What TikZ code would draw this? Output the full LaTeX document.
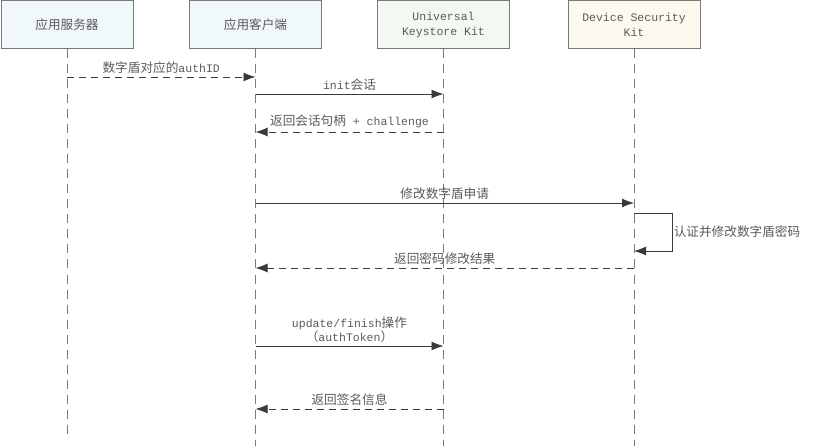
\documentclass[tikz,border=0pt]{standalone}
\usepackage{fontspec}
\setmainfont{Liberation Mono}
\newfontfamily\cjk{Noto Sans CJK SC}[Scale=1.1]
\usepackage{tikz}
\usetikzlibrary{arrows.meta}
\definecolor{boxline}{HTML}{7A7A7A}
\definecolor{msgline}{HTML}{3A3A3A}
\definecolor{msgtext}{HTML}{5A5A5A}
\definecolor{fillblue}{HTML}{F1F8FC}
\definecolor{fillgreen}{HTML}{F3F8F1}
\definecolor{fillyellow}{HTML}{FDF9EE}

\begin{document}
\begin{tikzpicture}[x=1pt,y=-1pt,
  actor/.style={draw=boxline,line width=1pt,minimum width=132pt,minimum height=48pt,
    align=center,text=msgtext,font=\fontsize{11.5}{15}\selectfont},
  lifeline/.style={draw=boxline,line width=1pt,dash pattern=on 9pt off 6pt},
  call/.style={draw=msgline,line width=0.9pt,-{Latex[length=12pt,width=9pt]}},
  reply/.style={call,dash pattern=on 7pt off 5pt},
  msg/.style={text=msgtext,font=\fontsize{11.5}{14}\selectfont,align=center}]
\useasboundingbox (0,0) rectangle (832,446);

\node[actor,fill=fillblue] (srv) at (67,25) {{\cjk 应用服务器}};
\node[actor,fill=fillblue] (cli) at (255.5,25) {{\cjk 应用客户端}};
\node[actor,fill=fillgreen] (ukk) at (443.5,25) {Universal\\Keystore Kit};
\node[actor,fill=fillyellow] (dsk) at (634,25) {Device Security\\Kit};

\coordinate (endsrv) at (67,435);
\coordinate (bottom) at (0,446);
\draw[lifeline] (srv.south) -- (endsrv);
\draw[lifeline] (cli.south) -- (cli |- bottom);
\draw[lifeline] (ukk.south) -- (ukk |- bottom);
\draw[lifeline] (dsk.south) -- (dsk |- bottom);

\coordinate (m1) at (0,77);
\coordinate (m2) at (0,94);
\coordinate (m3) at (0,132);
\coordinate (m4) at (0,203);
\coordinate (m5a) at (0,213);
\coordinate (m5b) at (0,251);
\coordinate (m6) at (0,268);
\coordinate (m7) at (0,346);
\coordinate (m8) at (0,409);
\coordinate (loop) at (672,0);

\draw[reply] (srv |- m1) -- node[msg,above] {{\cjk 数字盾对应的}authID} (cli |- m1);
\draw[call] (cli |- m2) -- node[msg,above] {init{\cjk 会话}} (ukk |- m2);
\draw[reply] (ukk |- m3) -- node[msg,above] {{\cjk 返回会话句柄} + challenge} (cli |- m3);
\draw[call] (cli |- m4) -- node[msg,above] {{\cjk 修改数字盾申请}} (dsk |- m4);
\draw[call] (dsk |- m5a) -- (loop |- m5a) -- node[msg,right,xshift=-2pt] {{\cjk 认证并修改数字盾密码}} (loop |- m5b) -- (dsk |- m5b);
\draw[reply] (dsk |- m6) -- node[msg,above] {{\cjk 返回密码修改结果}} (cli |- m6);
\draw[call] (cli |- m7) -- node[msg,above] {update/finish{\cjk 操作}\\{\cjk （}authToken{\cjk ）}} (ukk |- m7);
\draw[reply] (ukk |- m8) -- node[msg,above] {{\cjk 返回签名信息}} (cli |- m8);
\end{tikzpicture}
\end{document}
